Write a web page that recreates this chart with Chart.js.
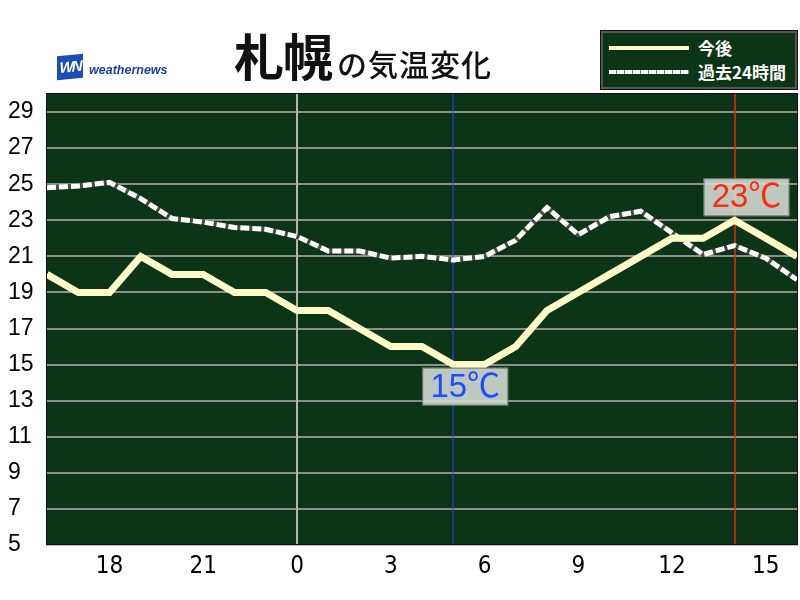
<!DOCTYPE html>
<html>
<head>
<meta charset="utf-8">
<script src="https://cdn.jsdelivr.net/npm/chart.js@4"></script>
<style>
    body { margin: 0; background: #fff; }
    #wrap { position: relative; width: 800px; height: 600px; }
    #tempChart { position: absolute; left: 0; top: 0; }
    #title { position: absolute; left: 234px; top: 18px; white-space: nowrap; font-family: "Noto Sans CJK JP"; color: #111; }
    #title .big { font-size: 50px; font-weight: 700; letter-spacing: -1px; }
    #title .small { font-size: 30px; font-weight: 500; margin-left: 5px; letter-spacing: 1px; }
    #logo { position: absolute; left: 57px; top: 55px; width: 26px; height: 24px; background: #1b4db5; transform: skewY(-6deg); color: #fff; font: italic 700 15px "Liberation Sans"; line-height: 24px; text-align: center; letter-spacing: -2px; }
    #logoText { position: absolute; left: 89px; top: 63px; font: italic 700 12.5px "Liberation Sans"; color: #1d3f9e; }
    #legend { position: absolute; left: 601px; top: 31px; width: 192px; height: 54px; background: #0c3416; border: 2px solid #555; outline: 1px solid #111; }
    .lg-line { position: absolute; left: 6px; width: 80px; height: 4px; }
    #lgSolid { top: 13px; background: #fffbc8; }
    #lgDash { top: 37px; background: repeating-linear-gradient(90deg, #fff 0 7px, #777 7px 8px); }
    .lg-text { position: absolute; left: 95px; font: 700 17px "Noto Sans CJK JP"; color: #fff; white-space: nowrap; }
</style>
</head>
<body>
<div id="wrap">
    <canvas id="tempChart" width="800" height="600"></canvas>
    <div id="title"><span class="big">札幌</span><span class="small">の気温変化</span></div>
    <div id="logo">WN</div>
    <div id="logoText">weathernews</div>
    <div id="legend">
        <div class="lg-line" id="lgSolid"></div>
        <div class="lg-text" style="top:2px">今後</div>
        <div class="lg-line" id="lgDash"></div>
        <div class="lg-text" style="top:26px">過去24時間</div>
    </div>
</div>
<script>
// hourly data, 16:00 yesterday -> 16:00 today
const hours = [16, 17, 18, 19, 20, 21, 22, 23, 0, 1, 2, 3, 4, 5, 6, 7, 8, 9, 10, 11, 12, 13, 14, 15, 16];
const forecast = [20, 19, 19, 21, 20, 20, 19, 19, 18, 18, 17, 16, 16, 15, 15, 16, 18, 19, 20, 21, 22, 22, 23, 22, 21];
const past24 = [24.8, 24.9, 25.1, 24.2, 23.1, 22.9, 22.6, 22.5, 22.1, 21.3, 21.3, 20.9, 21.0, 20.8, 21.0, 21.9, 23.7, 22.2, 23.2, 23.5, 22.3, 21.1, 21.6, 20.9, 19.7];
const xTicks = [18, 21, 0, 3, 6, 9, 12, 15];
const yTicks = [5, 7, 9, 11, 13, 15, 17, 19, 21, 23, 25, 27, 29];

const minTemp = Math.min(...forecast);
const maxTemp = Math.max(...forecast);
const minIdx = forecast.indexOf(minTemp);
const maxIdx = forecast.indexOf(maxTemp);
const midnightIdx = hours.indexOf(0);

// background of the plot area
const plotBg = {
    id: 'plotBg',
    beforeDraw(chart) {
        const { ctx, chartArea: a } = chart;
        ctx.save();
        ctx.fillStyle = '#0c3416';
        ctx.fillRect(a.left, a.top, a.right - a.left, a.bottom - a.top);
        ctx.restore();
    },
    afterDraw(chart) {
        const { ctx, chartArea: a } = chart;
        ctx.save();
        ctx.strokeStyle = '#111';
        ctx.lineWidth = 1;
        ctx.strokeRect(a.left - 0.5, a.top - 0.5, a.right - a.left + 1, a.bottom - a.top);
        ctx.restore();
    }
};

// vertical lines: midnight, time of min, time of max
const vLines = {
    id: 'vLines',
    beforeDatasetsDraw(chart) {
        const { ctx, chartArea: a } = chart;
        const x = chart.scales.x;
        const draw = (idx, color, w) => {
            const px = Math.round(x.getPixelForValue(idx));
            ctx.save();
            ctx.strokeStyle = color;
            ctx.lineWidth = w;
            ctx.beginPath();
            ctx.moveTo(px, a.top);
            ctx.lineTo(px, a.bottom);
            ctx.stroke();
            ctx.restore();
        };
        draw(midnightIdx, '#b4b4b4', 2);
        draw(minIdx, '#2244ff', 1);
        draw(maxIdx, '#e8280f', 1.5);
    }
};

// min / max labels
const tempLabels = {
    id: 'tempLabels',
    afterDatasetsDraw(chart) {
        const { ctx } = chart;
        const meta = chart.getDatasetMeta(0);
        const box = (idx, text, color, below) => {
            const p = meta.data[idx];
            const w = 86, h = 38;
            const left = p.x - 31;
            const top = below ? p.y + 3 : p.y - 4 - h;
            ctx.save();
            ctx.fillStyle = 'rgba(214, 222, 214, 0.88)';
            ctx.fillRect(left, top, w, h);
            ctx.strokeStyle = 'rgba(60, 60, 60, 0.6)';
            ctx.lineWidth = 1;
            ctx.strokeRect(left + 0.5, top + 0.5, w - 1, h - 1);
            ctx.fillStyle = color;
            ctx.font = '33px "Liberation Sans", "Noto Sans CJK JP"';
            ctx.textAlign = 'center';
            ctx.textBaseline = 'middle';
            ctx.fillText(text, left + w / 2, top + h / 2 + 1);
            ctx.restore();
        };
        box(minIdx, minTemp + '℃', '#1c4cff', true);
        box(maxIdx, maxTemp + '℃', '#ff2a12', false);
    }
};

const ctx = document.getElementById('tempChart').getContext('2d');
new Chart(ctx, {
    type: 'line',
    data: {
        labels: hours,
        datasets: [
            {
                label: '今後',
                data: forecast,
                borderColor: '#fffbc8',
                borderWidth: 7,
                borderJoinStyle: 'miter',
                pointRadius: 0,
                tension: 0
            },
            {
                label: '過去24時間',
                data: past24,
                borderColor: '#ffffff',
                borderWidth: 5,
                borderDash: [9, 3],
                borderCapStyle: 'butt',
                pointRadius: 0,
                tension: 0
            },
            {
                // dark underlay that shows through the dash gaps
                label: 'underlay',
                data: past24,
                borderColor: '#4a4a4a',
                borderWidth: 5,
                pointRadius: 0,
                tension: 0
            }
        ]
    },
    options: {
        responsive: false,
        animation: false,
        layout: { padding: { top: 94, right: 3, left: 8, bottom: 0 } },
        plugins: {
            legend: { display: false },
            tooltip: { enabled: false }
        },
        scales: {
            x: {
                offset: false,
                grid: { display: false, drawTicks: false },
                border: { display: true, color: '#b8c0b8', width: 2 },
                afterFit(scale) {
                    scale.height = 55;
                    scale.paddingLeft = 0;
                    scale.paddingRight = 0;
                },
                ticks: {
                    autoSkip: false,
                    maxRotation: 0,
                    padding: 7,
                    color: '#000',
                    font: { family: '"Liberation Sans Narrow", "DejaVu Sans Condensed"', size: 24 },
                    callback: (v, i) => xTicks.includes(hours[i]) && i > 0 && i < hours.length - 1 ? String(hours[i]) : ''
                }
            },
            y: {
                min: 5,
                max: 30,
                afterBuildTicks(scale) { scale.ticks = yTicks.map(v => ({ value: v })); },
                afterFit(scale) { scale.width = 39; },
                grid: { color: '#8e8e8e', lineWidth: 2, drawTicks: false },
                border: { display: false },
                ticks: {
                    crossAlign: 'far',
                    padding: 0,
                    color: '#000',
                    font: { family: '"Liberation Sans"', size: 23 }
                }
            }
        }
    },
    plugins: [plotBg, vLines, tempLabels]
});
</script>
</body>
</html>
